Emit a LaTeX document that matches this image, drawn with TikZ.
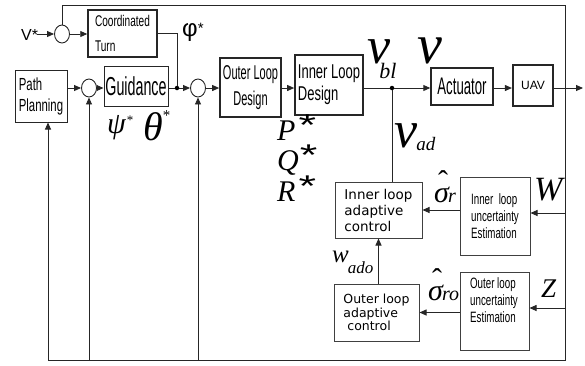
\documentclass[tikz,border=0pt]{standalone}
\usepackage{fontspec}
\setmainfont{Liberation Serif}
\newfontfamily\cnA[FakeStretch=0.55]{Liberation Sans}
\newfontfamily\cnB[FakeStretch=0.65]{Liberation Sans}
\newfontfamily\arl{Liberation Sans}
\newfontfamily\dvs{DejaVu Sans}
\usetikzlibrary{arrows.meta,shapes.geometric}
\newcommand{\fs}[2]{\fontsize{#1}{#2}\selectfont}
\newcommand{\hatover}[2]{{\rlap{\kern#2\raisebox{11pt}{\upshape ˆ}}#1}}
\begin{document}
\begin{tikzpicture}[x=1pt,y=-1pt,
  ln/.style={draw=black!85, line width=0.9pt},
  arr/.style={ln, -{Triangle[length=7pt,width=6pt]}},
  box/.style={draw=black!85, line width=1pt, inner sep=0pt},
  lowbox/.style={draw=black!75, line width=1pt, inner sep=0pt},
  sum/.style={ellipse, draw=black!85, line width=0.9pt, minimum width=15pt, minimum height=18pt, inner sep=0pt},
  dot/.style={circle, fill=black, inner sep=0pt, minimum size=4.5pt},
  lbl/.style={inner sep=0pt, anchor=base west}]
\useasboundingbox (0,0) rectangle (585,365);

% sum junctions and dots
\node[sum] (s1) at (62,34) {};
\node[sum] (s2) at (89,88) {};
\node[sum] (s3) at (198,88) {};
\node[dot] (d1) at (177,88) {};
\node[dot] (d2) at (392,88) {};

% blocks
\node[box, line width=1.5pt, minimum width=69pt, minimum height=47pt, align=left, font=\cnB\fs{15.5}{25}] (ct) at (122.5,33.5) {Coordinated\\Turn};
\node[box, minimum width=52pt, minimum height=52pt, align=left, font=\cnB\fs{17.5}{21}] (pp) at (41,96) {Path\\Planning};
\node[box, minimum width=64pt, minimum height=40pt, font=\cnA\fs{26}{26}] (gd) at (136,86) {Guidance};
\node[box, line width=1.7pt, minimum width=61pt, minimum height=59pt, align=center, font=\cnA\fs{20}{26}] (ol) at (250.5,87.5) {Outer Loop\\Design};
\node[box, line width=1.7pt, minimum width=68pt, minimum height=60pt, align=left, font=\cnB\fs{20}{22}] (il) at (329,85) {Inner Loop\\Design};
\node[box, line width=1.4pt, minimum width=62pt, minimum height=37pt, font=\cnA\fs{24}{24}] (ac) at (462,86.5) {Actuator};
\node[box, line width=2.2pt, minimum width=40pt, minimum height=41pt, font=\arl\fs{12}{12}] (uav) at (533,85.5) {UAV};
\node[lowbox, minimum width=87pt, minimum height=56pt, align=left, font=\dvs\fs{13.5}{16}] (iac) at (378.5,210) {Inner loop\\adaptive\\control};
\node[lowbox, minimum width=70pt, minimum height=78pt, align=left, font=\cnB\fs{15}{17}] (ile) at (495,216) {Inner\ \ loop\\uncertainty\\Estimation};
\node[lowbox, minimum width=85pt, minimum height=57pt, align=left, font=\dvs\fs{12.5}{13.5}] (oac) at (376.5,312.5) {Outer loop\\adaptive\\\ control};
\node[lowbox, minimum width=69pt, minimum height=78pt] (ole) at (494.5,311) {};
\node[inner sep=0pt, align=left, font=\cnB\fs{15}{17}] (olet) at (494,300) {Outer loop\\uncertainty\\Estimation};

% labels
\node[lbl, font=\arl\fs{16}{16}] (vs) at (21,40) {V*};
\node[lbl, font=\arl] (phl) at (182,36) {\fs{24}{24}φ\fs{15}{15}\raisebox{3pt}{*}};
\node[lbl, font=\itshape] (psl) at (107,133) {\fs{30}{30}ψ\kern1pt\fs{13}{13}\upshape\raisebox{9pt}{*}};
\node[lbl, font=\itshape] (thl) at (143,140) {\fs{40}{40}θ\kern0pt\fs{15}{15}\upshape\raisebox{20pt}{*}};
\node[lbl, font=\itshape] (vbl) at (367,63) {\fs{52}{52}v\kern-11pt\raisebox{-15pt}{\fs{22}{22}bl}};
\node[lbl, font=\itshape] (vl) at (417,63) {\fs{56}{56}v};
\node[lbl, font=\itshape] (vad) at (394,147) {\fs{52}{52}v\kern-1pt\raisebox{-3pt}{\fs{19}{19}ad}};
\node[lbl, font=\itshape] (pl) at (277,140) {\fs{30}{30}P\kern3pt\upshape\arl\raisebox{5pt}{\scalebox{1.5}[1]{*}}};
\node[lbl, font=\itshape] (ql) at (277,170) {\fs{30}{30}Q\kern1pt\upshape\arl\raisebox{5pt}{\scalebox{1.5}[1]{*}}};
\node[lbl, font=\itshape] (rl) at (277,201) {\fs{30}{30}R\kern3pt\upshape\arl\raisebox{5pt}{\scalebox{1.5}[1]{*}}};
\node[lbl, font=\itshape] (wad) at (332,262) {\fs{25}{25}w\kern-1pt\raisebox{-11pt}{\fs{17}{17}ado}};
\node[lbl, font=\itshape] (sr) at (434,202) {\fs{30}{30}\hatover{σ}{4pt}\kern-1pt\fs{20}{20}r};
\node[lbl, font=\itshape] (sro) at (428,300) {\fs{30}{30}\hatover{σ}{4pt}\kern-1pt\fs{20}{20}ro};
\node[lbl, font=\itshape] (wl) at (534,200) {\fs{34}{34}W};
\node[lbl, font=\itshape] (zl) at (541,297) {\fs{27}{27}Z};

% coordinates
\coordinate (vsend) at (37,34);
\coordinate (tr) at (565,5);
\coordinate (br) at (565,360);
\coordinate (bl) at (48,360);
\coordinate (out) at (583,88);
\coordinate (wtap) at (565,213);
\coordinate (ztap) at (565,308);

% connectors
\draw[arr] (vsend) -- (s1.west);
\draw[arr] (s1.east) -- (s1.east -| ct.west);
\draw[ln] (ct.east) -| (d1);
\draw[arr] (pp.east |- s2.west) -- (s2.west);
\draw[arr] (s2.east) -- (s2.east -| gd.west);
\draw[ln] (gd.east |- d1) -- (d1);
\draw[arr] (d1) -- (s3.west);
\draw[arr] (s3.east) -- (s3.east -| ol.west);
\draw[arr] (ol.east |- s3.east) -- (il.west |- s3.east);
\draw[ln] (il.east |- d2) -- (d2);
\draw[arr] (d2) -- (d2 -| ac.west);
\draw[arr] (ac.east |- d2) -- (uav.west |- d2);
\draw[arr] (uav.east |- d2) -- (out);
\draw[ln] (s1.north) |- (tr) -- (br) -- (bl);
\draw[arr] (bl) -- (bl |- pp.south);
\draw[arr] (s2 |- bl) -- (s2.south);
\draw[arr] (s3 |- bl) -- (s3.south);
\draw[ln] (d2) -- (d2 |- iac.north);
\draw[arr] (wtap) -- (wtap -| ile.east);
\draw[arr] (ile.west |- iac.east) -- (iac.east);
\draw[arr] (ztap) -- (ztap -| ole.east);
\draw[arr] (ole.west |- oac.east) -- (oac.east);
\draw[arr] (iac.south |- oac.north) -- (iac.south);
\end{tikzpicture}
\end{document}
